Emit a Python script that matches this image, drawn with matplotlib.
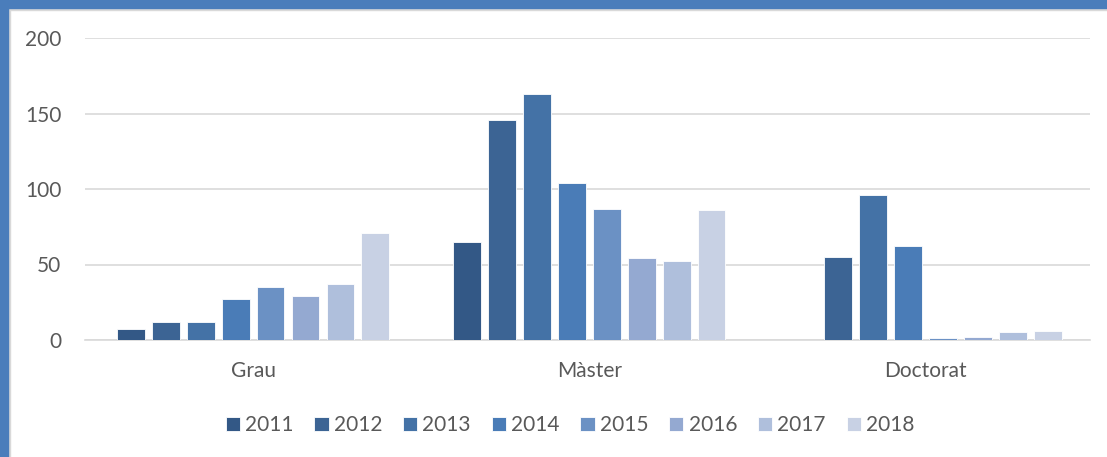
import numpy as np
import matplotlib.pyplot as plt
from matplotlib.patches import Rectangle

# data
categories = ['Grau', 'Màster', 'Doctorat']
years = ['2011', '2012', '2013', '2014', '2015', '2016', '2017', '2018']
values = {
    '2011': [7, 65, 0],
    '2012': [12, 146, 55],
    '2013': [12, 163, 96],
    '2014': [27, 104, 62],
    '2015': [35, 87, 1],
    '2016': [29, 54, 2],
    '2017': [37, 52, 5],
    '2018': [71, 86, 6],
}
colors = ['#335886', '#3c6494', '#4472a6', '#4a7cb7',
          '#6b91c4', '#94a9d1', '#afbfdc', '#c8d1e4']

plt.rcParams['font.family'] = ['Lato', 'DejaVu Sans']
txt = '#595959'

W, H = 1107, 457
fig = plt.figure(figsize=(W / 100, H / 100), dpi=100)
ax = fig.add_axes([85 / W, 117 / H, (1090 - 85) / W, (419 - 117) / H])

x = np.arange(len(categories))
step = 0.104
width = 0.083
for i, yr in enumerate(years):
    ax.bar(x + (i - 3.5) * step, values[yr], width, color=colors[i],
           edgecolor='white', linewidth=0.6, label=yr, zorder=3)

ax.set_xlim(-0.5, 2.49)
ax.set_ylim(0, 200)
ax.set_yticks([0, 50, 100, 150, 200])
ax.set_xticks(x)
ax.set_xticklabels(categories)
ax.yaxis.grid(True, color='#d9d9d9', linewidth=1.2, zorder=0)
for s in ['top', 'right', 'left']:
    ax.spines[s].set_visible(False)
ax.spines['bottom'].set_color('#d9d9d9')
ax.spines['bottom'].set_linewidth(1.2)
ax.tick_params(axis='both', length=0, labelsize=15, colors=txt)
ax.tick_params(axis='y', pad=17)
ax.tick_params(axis='x', pad=15)

fig.legend(loc='center', bbox_to_anchor=(570 / W, 1 - 425 / H), ncol=8,
           frameon=False, fontsize=15, labelcolor=txt,
           handlelength=0.68, handleheight=0.68, handletextpad=0.25,
           columnspacing=1.0)

# frame: blue band top and left with a thin grey line inside
blue = '#4a7dbb'
fig.patches.append(Rectangle((0, 1 - 8 / H), 1, 8 / H, transform=fig.transFigure,
                             color=blue, zorder=10))
fig.patches.append(Rectangle((0, 0), 8 / W, 1, transform=fig.transFigure,
                             color=blue, zorder=10))
fig.patches.append(Rectangle((8 / W, 1 - 10 / H), 1, 2 / H, transform=fig.transFigure,
                             color='#d9d9d9', zorder=9))
fig.patches.append(Rectangle((8 / W, 0), 2 / W, 1 - 8 / H, transform=fig.transFigure,
                             color='#d9d9d9', zorder=9))

fig.savefig('out.png', dpi=100)
